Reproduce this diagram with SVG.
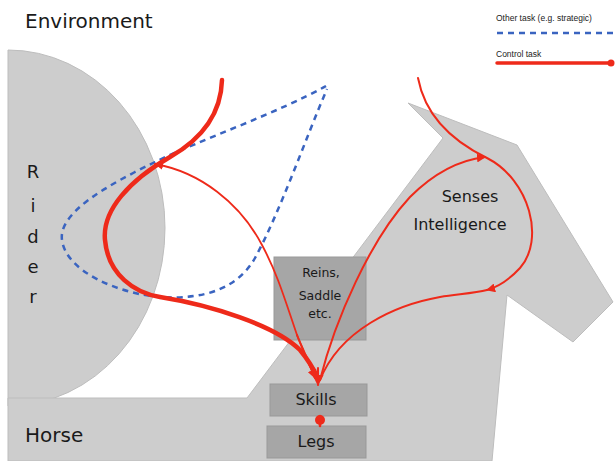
<svg xmlns="http://www.w3.org/2000/svg" width="615" height="461" viewBox="0 0 615 461">
<defs>
<marker id="arr" viewBox="0 0 10 10" refX="9" refY="5" markerWidth="9" markerHeight="9" markerUnits="userSpaceOnUse" orient="auto">
<path d="M0,0 L10,5 L0,10 z" fill="#ee2a1a"/>
</marker>
<marker id="arrBig" viewBox="0 0 10 10" refX="9" refY="5" markerWidth="11" markerHeight="11" markerUnits="userSpaceOnUse" orient="auto">
<path d="M0,0 L10,5 L0,10 z" fill="#ee2a1a"/>
</marker>
</defs>
<style>
.bg{fill:#cdcdcd;stroke:#bdbdbd;stroke-width:1}
.box{fill:#a6a6a6;stroke:#999;stroke-width:1}
.t{font-family:"DejaVu Sans",sans-serif;fill:#1a1a1a}
.leg{font-family:"Liberation Sans",Arial,sans-serif;font-size:8.5px;fill:#222}
.red{fill:none;stroke:#ee2a1a;stroke-linecap:round}
.blue{fill:none;stroke:#3a64c0;stroke-width:2.5;stroke-dasharray:6 5}
</style>
<rect width="615" height="461" fill="#ffffff"/>

<g id="rider">
<path class="bg" d="M8,50 A157,178 0 0 1 8,406 Z"/>
<text class="t" font-size="18" text-anchor="middle" x="33" y="178">R</text>
<text class="t" font-size="18" text-anchor="middle" x="33" y="212">i</text>
<text class="t" font-size="18" text-anchor="middle" x="33" y="243">d</text>
<text class="t" font-size="18" text-anchor="middle" x="33" y="273">e</text>
<text class="t" font-size="18" text-anchor="middle" x="33" y="303">r</text>
</g>

<g id="horse">
<path class="bg" d="M8,398 L247,398 L443,138 L408,103 L517,145 L613,302 L573,342 L507,295 L492,461 L8,461 Z"/>
<text class="t" font-size="20" x="25" y="442">Horse</text>
<text class="t" font-size="16" text-anchor="middle" x="470" y="202">Senses</text>
<text class="t" font-size="16" text-anchor="middle" x="460" y="230">Intelligence</text>
</g>

<g id="environment">
<text class="t" font-size="20" x="25" y="28">Environment</text>
</g>

<g id="reins">
<rect class="box" x="274" y="257" width="92" height="83"/>
<text class="t" font-size="12.5" text-anchor="middle" x="321" y="277">Reins,</text>
<text class="t" font-size="12.5" text-anchor="middle" x="320" y="300">Saddle</text>
<text class="t" font-size="12.5" text-anchor="middle" x="320" y="318">etc.</text>
</g>

<g id="skills">
<rect class="box" x="270" y="384" width="97" height="32"/>
<text class="t" font-size="16" text-anchor="middle" x="316" y="405">Skills</text>
</g>

<g id="legs">
<rect class="box" x="267" y="426" width="99" height="32"/>
<text class="t" font-size="16" text-anchor="middle" x="316" y="447">Legs</text>
</g>

<g id="legend">
<text class="leg" x="496" y="21">Other task (e.g. strategic)</text>
<line class="blue" x1="497" y1="33" x2="615" y2="33" stroke-width="2"/>
<text class="leg" x="496" y="57">Control task</text>
<line class="red" x1="497" y1="63" x2="612" y2="63" stroke-width="3.5"/>
<circle cx="611" cy="63" r="3.5" fill="#ee2a1a"/>
</g>

<g id="connectors">
<path class="blue" d="M326,86 C 280,112 200,140 155,162 C 110,184 58,212 62,240 C 66,272 120,294 160,297 C 205,300 238,288 255,258 C 280,212 305,140 327,89"/>
<path class="red" stroke-width="4.5" d="M222,80 C 221,115 200,140 170,157 C 130,180 102,210 105,240 C 108,275 135,293 160,297 C 210,305 275,325 300,350 C 310,362 315,372 318,378"/>
<path class="red" stroke-width="2" marker-end="url(#arr)" d="M297,335 C 300,343 306,355 315,378"/>
<path class="red" stroke-width="1.8" d="M315,378 C 308,362 302,348 297,335"/>
<path class="red" stroke-width="1.8" marker-end="url(#arr)" d="M297,335 C 285,300 278,275 262,245 C 240,203 200,172 155,164"/>
<path class="red" stroke-width="2" marker-end="url(#arr)" d="M418,78 C 425,115 450,140 487,158 C 530,180 545,240 520,268 C 508,281 498,287 487,290"/>
<path class="red" stroke-width="2" d="M487,290 C 475,293 460,294 440,297 C 395,305 340,330 320,380"/>
<path class="red" stroke-width="2" marker-end="url(#arr)" d="M320,380 C 335,320 370,240 410,197 C 435,172 460,160 485,157"/>
<path class="red" stroke-width="2" marker-end="url(#arrBig)" d="M318,368 L318,385"/>
<line class="red" stroke-width="2.5" x1="320" y1="416" x2="320" y2="426"/>
<circle cx="320" cy="420" r="5" fill="#ee2a1a"/>
</g>
</svg>
